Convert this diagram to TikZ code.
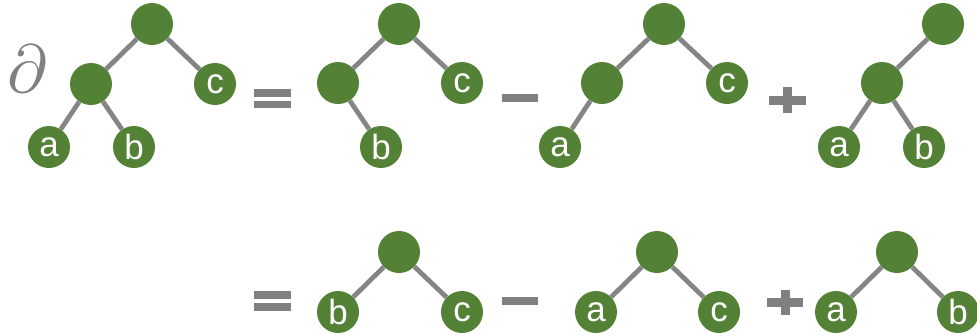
\documentclass[tikz,border=0pt]{standalone}
\usepackage{fontspec}
\setmainfont{Liberation Sans}
\definecolor{leafgreen}{HTML}{538135}
\definecolor{edgegray}{HTML}{858585}
\definecolor{opgray}{HTML}{808080}
\tikzset{
  tnode/.style={circle,fill=leafgreen,inner sep=0pt,minimum size=42pt,text=white,font=\fontsize{35}{35}\selectfont},
  tedge/.style={draw=edgegray,line width=4.8pt},
  opbar/.style={fill=opgray,draw=none}
}
\begin{document}
\begin{tikzpicture}[x=1pt,y=-1pt]
\useasboundingbox (0,0) rectangle (977,335);
% partial symbol
\node[text=opgray,inner sep=0pt] (d) at (27,69) {\scalebox{6.8}{$\partial$}};
% tree 1
\node[tnode] (r1) at (152,24) {};
\node[tnode] (i1) at (91,84) {};
\node[tnode] (c1) at (215,84) {c};
\node[tnode] (a1) at (49,147) {a};
\node[tnode] (b1) at (134,147) {b};
% tree 2
\node[tnode] (r2) at (399,24) {};
\node[tnode] (i2) at (338,83) {};
\node[tnode] (c2) at (462,83) {c};
\node[tnode] (b2) at (381,147) {b};
% tree 3
\node[tnode] (r3) at (664,24) {};
\node[tnode] (i3) at (602,83) {};
\node[tnode] (c3) at (727,83) {c};
\node[tnode] (a3) at (560,147) {a};
% tree 4
\node[tnode] (r4) at (943,24) {};
\node[tnode] (i4) at (882,83) {};
\node[tnode] (a4) at (839,147) {a};
\node[tnode] (b4) at (924,147) {b};
% row 2 trees
\node[tnode] (r5) at (399,252) {};
\node[tnode] (b5) at (338,312) {b};
\node[tnode] (c5) at (462,312) {c};
\node[tnode] (r6) at (657,252) {};
\node[tnode] (a6) at (596,312) {a};
\node[tnode] (c6) at (719,312) {c};
\node[tnode] (r7) at (897,252) {};
\node[tnode] (a7) at (836,312) {a};
\node[tnode] (b7) at (958,312) {b};
% edges
\draw[tedge] (r1) -- (i1);
\draw[tedge] (r1) -- (c1);
\draw[tedge] (i1) -- (a1);
\draw[tedge] (i1) -- (b1);
\draw[tedge] (r2) -- (i2);
\draw[tedge] (r2) -- (c2);
\draw[tedge] (i2) -- (b2);
\draw[tedge] (r3) -- (i3);
\draw[tedge] (r3) -- (c3);
\draw[tedge] (i3) -- (a3);
\draw[tedge] (r4) -- (i4);
\draw[tedge] (i4) -- (a4);
\draw[tedge] (i4) -- (b4);
\draw[tedge] (r5) -- (b5);
\draw[tedge] (r5) -- (c5);
\draw[tedge] (r6) -- (a6);
\draw[tedge] (r6) -- (c6);
\draw[tedge] (r7) -- (a7);
\draw[tedge] (r7) -- (b7);
% operators row 1
\fill[opbar] (254,89) rectangle (291,97);
\fill[opbar] (254,101) rectangle (291,108);
\fill[opbar] (502,94) rectangle (538,102);
\fill[opbar] (769,96) rectangle (806,105);
\fill[opbar] (783,87) rectangle (792,113);
% operators row 2
\fill[opbar] (254,291) rectangle (291,299);
\fill[opbar] (254,303) rectangle (291,311);
\fill[opbar] (502,297) rectangle (538,305);
\fill[opbar] (767,298) rectangle (803,307);
\fill[opbar] (781,290) rectangle (790,315);
\end{tikzpicture}
\end{document}
